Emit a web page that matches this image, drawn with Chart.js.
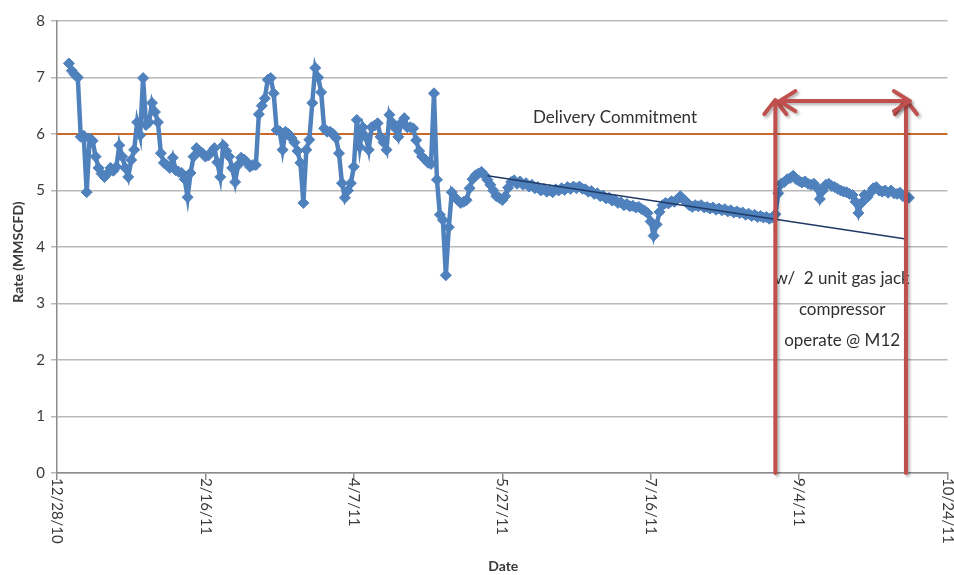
<!DOCTYPE html>
<html>
<head>
<meta charset="utf-8">
<script src="https://cdn.jsdelivr.net/npm/chart.js@4/dist/chart.umd.min.js"></script>
<style>
  html, body { margin: 0; padding: 0; background: #fff; }
  #wrap { width: 954px; height: 575px; }
</style>
</head>
<body>
<div id="wrap"><canvas id="c" width="954" height="575"></canvas></div>
<script>
// X axis is measured in days since 12/28/10
const tickDays = [0, 50, 100, 150, 200, 250, 300];
const tickLabels = ['12/28/10', '2/16/11', '4/7/11', '5/27/11', '7/16/11', '9/4/11', '10/24/11'];

// Daily gas rate (MMSCFD), first reading on day 4 (1/1/11)
const firstDay = 4;
const rates = [
  7.25, 7.12, 7.05, 7.00, 5.95, 5.97, 4.97, 5.92, 5.88, 5.60,
  5.40, 5.30, 5.24, 5.30, 5.40, 5.35, 5.42, 5.80, 5.60, 5.40,
  5.24, 5.54, 5.72, 6.21, 5.98, 6.99, 6.16, 6.21, 6.55, 6.39,
  6.21, 5.66, 5.49, 5.45, 5.40, 5.58, 5.36, 5.33, 5.31, 5.20,
  4.88, 5.31, 5.60, 5.75, 5.70, 5.66, 5.60, 5.62, 5.68, 5.75,
  5.50, 5.24, 5.80, 5.70, 5.60, 5.40, 5.15, 5.45, 5.58, 5.55,
  5.50, 5.42, 5.45, 5.45, 6.35, 6.50, 6.63, 6.96, 6.99, 6.72,
  6.07, 6.05, 5.72, 6.04, 6.00, 5.93, 5.85, 5.70, 5.49, 4.78,
  5.72, 5.90, 6.55, 7.17, 7.00, 6.74, 6.10, 6.04, 6.04, 6.00,
  5.93, 5.66, 5.13, 4.87, 5.00, 5.13, 5.42, 6.25, 5.77, 6.12,
  5.95, 5.72, 6.12, 6.15, 6.19, 5.95, 5.85, 5.72, 6.34, 6.20,
  6.10, 5.95, 6.20, 6.28, 6.12, 6.12, 6.10, 5.89, 5.70, 5.60,
  5.55, 5.49, 5.47, 6.72, 5.19, 4.57, 4.48, 3.50, 4.35, 4.97,
  4.88, 4.83, 4.78, 4.80, 4.83, 5.04, 5.20, 5.27, 5.30, 5.33,
  5.27, 5.19, 5.10, 5.00, 4.90, 4.87, 4.83, 4.90, 5.05, 5.15,
  5.18, 5.12, 5.16, 5.10, 5.13, 5.07, 5.10, 5.04, 5.06, 5.00,
  5.03, 4.98, 5.01, 4.97, 5.02, 5.00, 5.04, 5.01, 5.06, 5.03,
  5.07, 5.04, 5.07, 5.03, 5.02, 4.98, 4.99, 4.94, 4.95, 4.90,
  4.91, 4.86, 4.87, 4.82, 4.83, 4.78, 4.79, 4.74, 4.76, 4.72,
  4.73, 4.70, 4.71, 4.67, 4.64, 4.60, 4.45, 4.20, 4.40, 4.62,
  4.74, 4.78, 4.77, 4.81, 4.80, 4.85, 4.90, 4.84, 4.80, 4.74,
  4.71, 4.74, 4.72, 4.74, 4.70, 4.71, 4.68, 4.70, 4.66, 4.68,
  4.65, 4.67, 4.63, 4.65, 4.61, 4.63, 4.60, 4.61, 4.57, 4.59,
  4.55, 4.57, 4.53, 4.55, 4.52, 4.53, 4.50, 4.52, 4.58, 4.95,
  5.12, 5.15, 5.20, 5.22, 5.26, 5.20, 5.17, 5.14, 5.16, 5.12,
  5.10, 5.12, 5.05, 4.85, 5.00, 5.10, 5.12, 5.08, 5.06, 5.03,
  5.00, 4.98, 4.97, 4.94, 4.92, 4.80, 4.60, 4.78, 4.92, 4.88,
  4.96, 5.04, 5.06, 5.00, 4.98, 5.00, 4.96, 5.00, 4.95, 4.94,
  4.96, 4.90, 4.88, 4.87
];

// Decline trend fitted to the pre-compressor period
const trendDays = [145, 286];
const trendRates = [5.26, 4.14];

// Delivery commitment level
const commitDays = [0, 300];
const commitRate = 6;

// Gas jack compressor period (day range) and arrow height
const jackDays = [242, 286];
const arrowRate = 6.6;

const seriesPoints = rates.map((v, i) => ({ x: firstDay + i, y: v }));
const trendPoints = trendDays.map((d, i) => ({ x: d, y: trendRates[i] }));
const commitPoints = commitDays.map(d => ({ x: d, y: commitRate }));

const FONT = 'Lato, "Open Sans", "DejaVu Sans", sans-serif';
const TEXT = '#3a3a3a';
const RED = '#C0504D';
const BLUE = '#4F81BD';

const overlay = {
  id: 'overlay',
  afterDraw(chart) {
    const ctx = chart.ctx;
    const xs = chart.scales.x, ys = chart.scales.y;
    const area = chart.chartArea;
    ctx.save();

    // rotated date labels, reading downward
    ctx.fillStyle = TEXT;
    ctx.font = '15px ' + FONT;
    ctx.textAlign = 'left';
    ctx.textBaseline = 'middle';
    tickDays.forEach((d, i) => {
      ctx.save();
      ctx.translate(xs.getPixelForValue(d), area.bottom + 5);
      ctx.rotate(Math.PI / 2);
      ctx.fillText(tickLabels[i], 0, 0);
      ctx.restore();
    });

    // axis titles
    ctx.font = 'bold 14px ' + FONT;
    ctx.textAlign = 'center';
    ctx.fillText('Date', (xs.left + xs.right) / 2 + 1, 566);
    ctx.save();
    ctx.translate(18, (area.top + area.bottom) / 2 + 5);
    ctx.rotate(-Math.PI / 2);
    ctx.fillText('Rate (MMSCFD)', 0, 0);
    ctx.restore();

    // commitment caption
    ctx.font = '17px ' + FONT;
    ctx.fillStyle = '#303030';
    ctx.fillText('Delivery Commitment', xs.getPixelForValue(188), ys.getPixelForValue(6.3));

    // compressor caption
    const cx = xs.getPixelForValue(264.5);
    ctx.fillText('w/  2 unit gas jack', cx, ys.getPixelForValue(3.45));
    ctx.fillText('compressor', cx, ys.getPixelForValue(2.9));
    ctx.fillText('operate @ M12', cx, ys.getPixelForValue(2.35));

    // red arrows marking the compressor period
    const x1 = xs.getPixelForValue(jackDays[0]);
    const x2 = xs.getPixelForValue(jackDays[1]);
    const yTop = ys.getPixelForValue(arrowRate);
    const yBot = ys.getPixelForValue(0);
    ctx.strokeStyle = RED;
    ctx.lineWidth = 4;
    ctx.lineCap = 'round';
    ctx.lineJoin = 'round';
    ctx.shadowColor = 'rgba(0,0,0,0.3)';
    ctx.shadowBlur = 3;
    ctx.shadowOffsetX = 2;
    ctx.shadowOffsetY = 2;
    const head = 14, spread = 11;
    [x1, x2].forEach(x => {
      ctx.beginPath();
      ctx.moveTo(x, yBot);
      ctx.lineTo(x, yTop);
      ctx.moveTo(x - spread, yTop + head);
      ctx.lineTo(x, yTop);
      ctx.lineTo(x + spread, yTop + head);
      ctx.stroke();
    });
    const yh = yTop + 1;
    const hx1 = x1 + 4, hx2 = x2 + 4;
    ctx.beginPath();
    ctx.moveTo(hx1, yh);
    ctx.lineTo(hx2, yh);
    ctx.moveTo(hx1 + head + 2, yh - spread + 1);
    ctx.lineTo(hx1, yh);
    ctx.lineTo(hx1 + head + 2, yh + spread - 1);
    ctx.moveTo(hx2 - head - 2, yh - spread + 1);
    ctx.lineTo(hx2, yh);
    ctx.lineTo(hx2 - head - 2, yh + spread - 1);
    ctx.stroke();

    ctx.restore();
  }
};

new Chart(document.getElementById('c'), {
  type: 'line',
  data: {
    datasets: [
      {
        data: trendPoints,
        borderColor: '#1F3A66',
        borderWidth: 1.5,
        pointRadius: 0,
        order: 0
      },
      {
        data: seriesPoints,
        borderColor: BLUE,
        backgroundColor: BLUE,
        borderWidth: 4.5,
        pointStyle: 'rectRot',
        pointRadius: 5.5,
        pointBorderWidth: 1,
        pointBorderColor: BLUE,
        pointBackgroundColor: BLUE,
        tension: 0,
        order: 1
      },
      {
        data: commitPoints,
        borderColor: '#C8692A',
        borderWidth: 2,
        pointRadius: 0,
        order: 2
      }
    ]
  },
  options: {
    responsive: false,
    animation: false,
    devicePixelRatio: 1,
    events: [],
    layout: { padding: { top: 21, right: 3, left: 0, bottom: 0 } },
    plugins: { legend: { display: false }, tooltip: { enabled: false } },
    scales: {
      x: {
        type: 'linear',
        min: 0,
        max: 300,
        afterBuildTicks: s => { s.ticks = tickDays.map(v => ({ value: v })); },
        afterFit: s => { s.height = 102; },
        ticks: { display: false },
        grid: { drawOnChartArea: false, drawTicks: true, tickLength: 7, color: '#8c8c8c', lineWidth: 1.5 },
        border: { display: true, color: '#8c8c8c', width: 1.5 }
      },
      y: {
        min: 0,
        max: 8,
        afterFit: s => { s.width = 57; },
        ticks: { stepSize: 1, padding: 6, color: TEXT, font: { family: FONT, size: 15 } },
        grid: { color: '#b9b9b9', lineWidth: 1.5, tickLength: 6, drawTicks: true },
        border: { display: true, color: '#8c8c8c', width: 1.5 }
      }
    }
  },
  plugins: [overlay]
});
</script>
</body>
</html>
